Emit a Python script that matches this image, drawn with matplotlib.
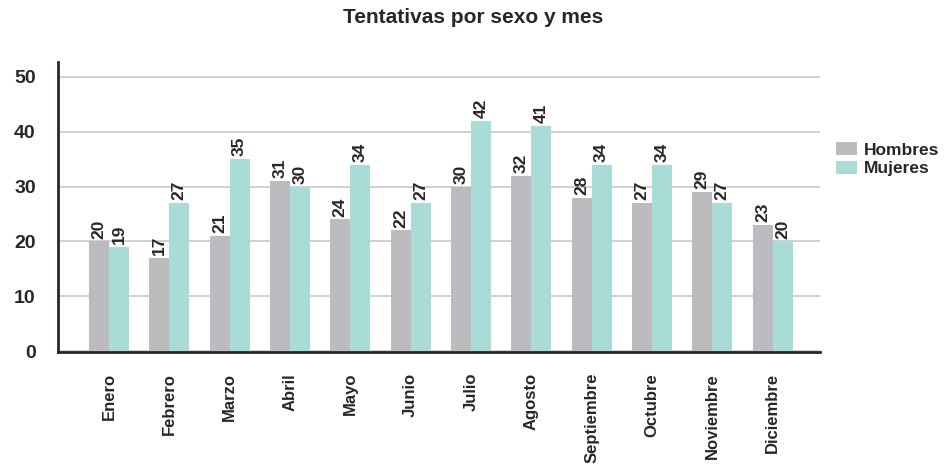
import matplotlib
matplotlib.use("Agg")
import matplotlib.pyplot as plt
import numpy as np

plt.rcParams['font.family'] = ['Liberation Sans', 'DejaVu Sans']

months = ["Enero", "Febrero", "Marzo", "Abril", "Mayo", "Junio", "Julio",
          "Agosto", "Septiembre", "Octubre", "Noviembre", "Diciembre"]
hombres = [20, 17, 21, 31, 24, 22, 30, 32, 28, 27, 29, 23]
mujeres = [19, 27, 35, 30, 34, 27, 42, 41, 34, 34, 27, 20]
yticks = [0, 10, 20, 30, 40, 50]

c_h = "#bcbcc0"
c_m = "#a9dcd7"
dark = "#2a2627"

fig = plt.figure(figsize=(9.47, 4.67), dpi=100)
ax = fig.add_axes([0.0612, 0.246, 0.805, 0.621])

x = np.arange(len(months))
w = 0.33
bh = ax.bar(x - w / 2, hombres, w, color=c_h, label="Hombres", zorder=3)
bm = ax.bar(x + w / 2, mujeres, w, color=c_m, label="Mujeres", zorder=3)

for rects, vals in ((bh, hombres), (bm, mujeres)):
    for r, v in zip(rects, vals):
        ax.annotate(str(v), (r.get_x() + r.get_width() / 2, r.get_height()),
                    xytext=(0, 2), textcoords="offset points",
                    rotation=90, ha="center", va="bottom",
                    fontsize=12.5, fontweight="bold", color=dark, zorder=4)

ax.set_xlim(-0.846, 11.79)
ax.set_ylim(-0.2, 52.7)
ax.set_yticks(yticks)
ax.set_yticklabels([str(t) for t in yticks], fontsize=14, fontweight="bold", color=dark)
ax.set_xticks(x)
ax.set_xticklabels(months, rotation=90, fontsize=12, fontweight="bold", color=dark)
ax.tick_params(axis="both", length=0)
ax.tick_params(axis="y", pad=16)
ax.tick_params(axis="x", pad=15)

ax.grid(axis="y", color="#c8c8c8", linewidth=1.2, zorder=0)
for s in ("top", "right"):
    ax.spines[s].set_visible(False)
for s in ("left", "bottom"):
    ax.spines[s].set_color(dark)
    ax.spines[s].set_linewidth(2)
    ax.spines[s].set_zorder(5)

fig.text(0.5, 0.962, "Tentativas por sexo y mes", ha="center", va="center",
         fontsize=15, fontweight="bold", color=dark)

leg = ax.legend(loc="center left", bbox_to_anchor=(1.0, 0.665), frameon=False,
                prop={"size": 12.5, "weight": "bold"}, handlelength=1.2,
                handleheight=0.75, handletextpad=0.4, labelspacing=0.2)
for t in leg.get_texts():
    t.set_color(dark)

fig.savefig("out.png", dpi=100)
